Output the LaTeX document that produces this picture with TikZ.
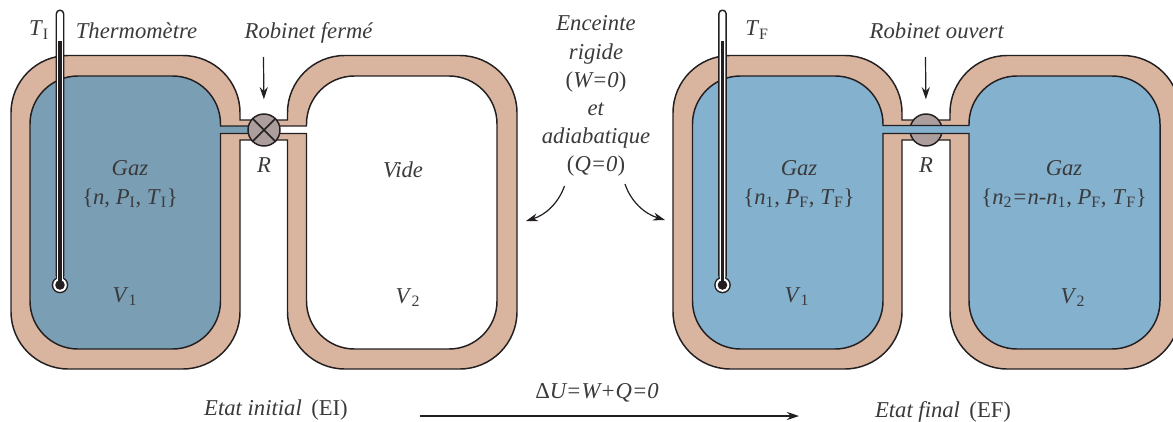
\documentclass[tikz,border=0pt]{standalone}
\usepackage{fontspec}
\setmainfont{Liberation Serif}
\usetikzlibrary{arrows.meta}
\definecolor{wall}{HTML}{D9B5A0}
\definecolor{gazI}{HTML}{7A9EB3}
\definecolor{gazF}{HTML}{84B1CE}
\definecolor{valve}{HTML}{AB9E9C}
\definecolor{ink}{HTML}{231F20}
\definecolor{txt}{HTML}{3A3A3C}
\tikzset{
  lab/.style={font=\fontsize{17}{21}\selectfont,text=txt,inner sep=0pt,align=center,anchor=base},
  wallline/.style={draw=ink,line width=1.1pt},
  arr/.style={draw=ink,line width=0.9pt,-{Stealth[length=9pt,width=6pt]}},
  valvebody/.style={circle,draw=ink,line width=1.1pt,fill=valve,minimum size=24pt,inner sep=0pt},
}
\newcommand{\sbt}[1]{\textsubscript{\upshape #1}}
% outer outline of a pair of vessels joined by the tube
\newcommand{\outerwall}[4]{%
  \path[fill=wall,wallline] (#2,120) [rounded corners=43] -- (#2,55.5) -- (#1,55.5) -- (#1,369) -- (#2,369) [sharp corners] -- (#2,140) -- (#3,140) [rounded corners=43] -- (#3,369) -- (#4,369) -- (#4,55.5) -- (#3,55.5) [sharp corners] -- (#3,120) -- cycle;
}
\newcommand{\thermo}[2]{%
  \begin{scope}[shift={(#1,0)}]
  \fill[ink,rounded corners=3] (-4.3,9.5) rectangle (4.3,280);
  \fill[white,rounded corners=2.2] (-2.8,11) rectangle (2.8,280);
  \fill[ink] (0,285) circle (8.3);
  \fill[white] (0,285) circle (6.8);
  \fill[white] (-2.8,270) rectangle (2.8,282);
  \fill[ink] (-1.9,40.5) rectangle (1.9,285);
  \fill[ink] (0,285) circle (4.8);
  \end{scope}}
\begin{document}
\begin{tikzpicture}[x=0.75pt,y=-0.75pt]
\clip (0,0) rectangle (1173,421);
% ---------- initial state
\outerwall{11}{240}{287.5}{517}
\path[fill=white,wallline] (264,126) -- (306.5,126) [rounded corners=36] -- (306.5,76) -- (497,76) -- (497,349) -- (306.5,349) [sharp corners] -- (306.5,133.5) -- (264,133.5) -- cycle;
\path[fill=gazI,wallline] (264,126) -- (220.5,126) [rounded corners=36] -- (220.5,76) -- (30,76) -- (30,349) -- (220.5,349) [sharp corners] -- (220.5,133.5) -- (264,133.5) -- cycle;
\thermo{60}{}
\node[valvebody] (vI) at (264,130) {};
\draw[ink,line width=1.1pt] (vI.north west) -- (vI.south east) (vI.north east) -- (vI.south west);
% ---------- final state
\outerwall{673}{902}{950}{1180}
\node[valvebody] (vF) at (926,130) {};
\path[fill=gazF,wallline] (883,125.5) [rounded corners=36] -- (883,76) -- (692.5,76) -- (692.5,349) -- (883,349) [sharp corners] -- (883,133.5) -- (969,133.5) [rounded corners=36] -- (969,349) -- (1160,349) -- (1160,76) -- (969,76) [sharp corners] -- (969,125.5) -- cycle;
\thermo{722.5}{}
% ---------- labels
\node[lab] (tI) at (39,36) {\textit{T}\sbt{I}};
\node[lab] (therm) at (136.5,38.5) {\textit{Thermomètre}};
\node[lab] (robF) at (309,38.5) {\textit{Robinet fermé}};
\node[lab] (gazA) at (130,175.5) {\textit{Gaz}};
\node[lab] (stA) at (130,204) {\{\textit{n}, \textit{P}\sbt{I}, \textit{T}\sbt{I}\}};
\node[lab] (rA) at (264,172.5) {\textit{R}};
\node[lab] (v1A) at (125,302) {\textit{V}\textsubscript{1}};
\node[lab] (vide) at (403,177) {\textit{Vide}};
\node[lab] (v2A) at (408,303) {\textit{V}\textsubscript{2}};
\node[lab] (l1) at (596,31) {\textit{Enceinte}};
\node[lab] (l2) at (596,59) {\textit{rigide}};
\node[lab] (l3) at (596,87) {(\textit{W=0})};
\node[lab] (l4) at (596,115) {\textit{et}};
\node[lab] (l5) at (596,143) {\textit{adiabatique}};
\node[lab] (l6) at (596,171) {(\textit{Q=0})};
\node[lab] (tF) at (757,36) {\textit{T}\sbt{F}};
\node[lab] (robO) at (937,38.5) {\textit{Robinet ouvert}};
\node[lab] (gazB) at (799,175.5) {\textit{Gaz}};
\node[lab] (stB) at (799,204) {\{\textit{n}\textsubscript{1}, \textit{P}\sbt{F}, \textit{T}\sbt{F}\}};
\node[lab] (rB) at (926,172.5) {\textit{R}};
\node[lab] (v1B) at (797,302) {\textit{V}\textsubscript{1}};
\node[lab] (gazC) at (1064,175.5) {\textit{Gaz}};
\node[lab] (stC) at (1064,204) {\{\textit{n}\textsubscript{2}\textit{=n-n}\textsubscript{1}, \textit{P}\sbt{F}, \textit{T}\sbt{F}\}};
\node[lab] (v2B) at (1073,303) {\textit{V}\textsubscript{2}};
\node[lab] (ei) at (276,415) {\textit{Etat initial}\,  (EI)};
\node[lab] (ef) at (943,417) {\textit{Etat final}\,  (EF)};
\node[lab] (du) at (597,398) {Δ\textit{U=W+Q=0}};
% ---------- arrows
\coordinate (aI) at (263.5,57);
\coordinate (aF) at (925.5,57);
\draw[arr,shorten >=10.5] (aI) -- (vI.north);
\draw[arr,shorten >=10.5] (aF) -- (vF.north);
\coordinate (cL0) at (564.5,186);
\coordinate (cL1) at (526,221);
\coordinate (cR0) at (625,184);
\coordinate (cR1) at (665,220);
\draw[arr] (cL0) .. controls (558,204) and (545,215) .. (cL1);
\draw[arr] (cR0) .. controls (631,202) and (645,214) .. (cR1);
\coordinate (b0) at (420,416);
\coordinate (b1) at (799,416);
\draw[arr] (b0) -- (b1);
\end{tikzpicture}
\end{document}
